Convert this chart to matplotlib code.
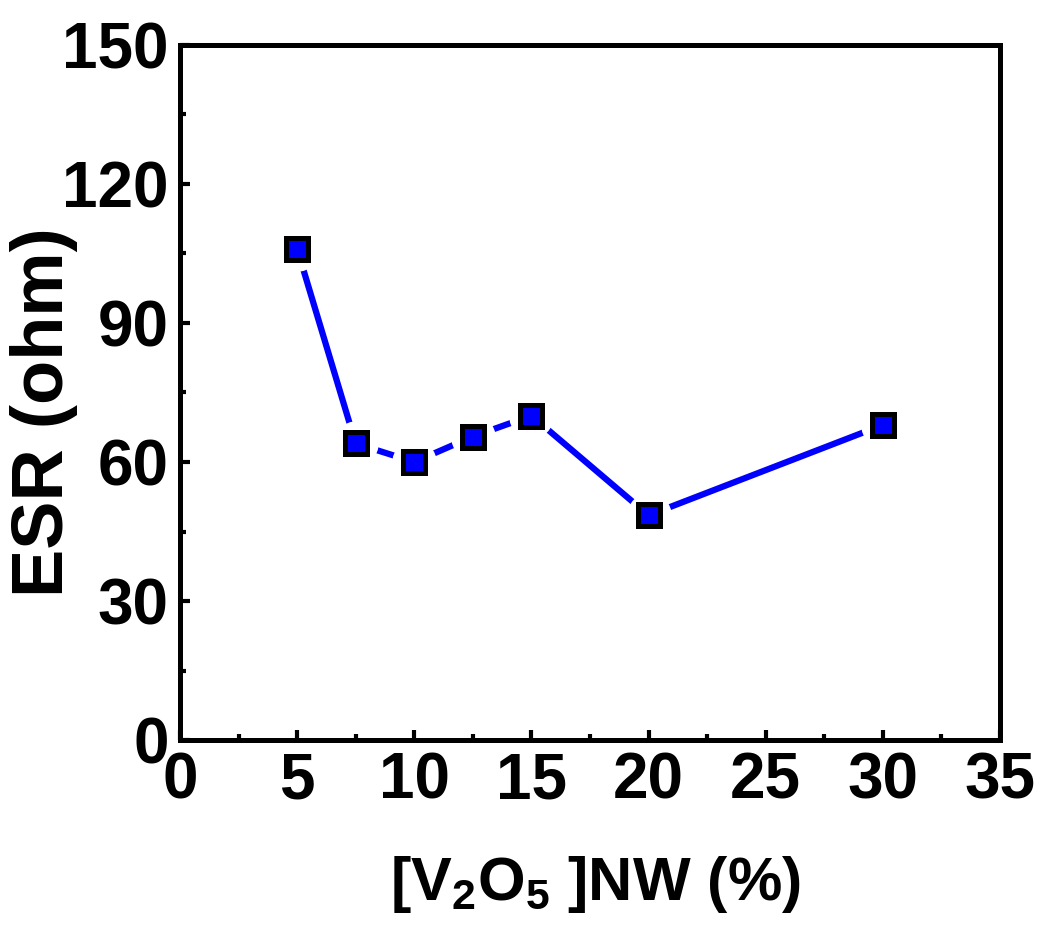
import matplotlib
matplotlib.use("Agg")
import matplotlib.pyplot as plt
from matplotlib.ticker import MultipleLocator

# Data
v2o5_pct = [5, 7.5, 10, 12.5, 15, 20, 30]
esr_ohm = [106, 64, 60, 65.5, 70, 48.5, 68]
x_ticks = [0, 5, 10, 15, 20, 25, 30, 35]
y_ticks = [0, 30, 60, 90, 120, 150]

plt.rcParams['font.family'] = ['Liberation Sans', 'DejaVu Sans']
plt.rcParams['font.weight'] = 'bold'
plt.rcParams['mathtext.fontset'] = 'custom'
plt.rcParams['mathtext.rm'] = 'Liberation Sans:bold'
plt.rcParams['mathtext.bf'] = 'Liberation Sans:bold'
plt.rcParams['mathtext.it'] = 'Liberation Sans:bold'

W, H = 1053, 927
fig = plt.figure(figsize=(W / 100, H / 100), dpi=100)
ax = fig.add_axes([0.1709, 0.2017, 0.7788, 0.7498])

# line
ax.plot(v2o5_pct, esr_ohm, color='#0000FF', lw=4.5, zorder=2, solid_capstyle='butt')
# white gap around markers
ax.plot(v2o5_pct, esr_ohm, ls='none', marker='o', ms=31, mfc='white', mec='white', zorder=3)
# markers
ax.plot(v2o5_pct, esr_ohm, ls='none', marker='s', ms=16.5, mfc='#0000FF', mec='black', mew=3.6, zorder=4)

ax.set_xlim(0, 35)
ax.set_ylim(0, 150)
ax.set_xticks(x_ticks)
ax.set_yticks(y_ticks)
ax.xaxis.set_minor_locator(MultipleLocator(2.5))
ax.yaxis.set_minor_locator(MultipleLocator(15))

for s in ax.spines.values():
    s.set_linewidth(3.6)

ax.tick_params(which='major', direction='in', length=7, width=3, labelsize=46, top=False, right=False)
ax.tick_params(which='minor', direction='in', length=4.5, width=3, top=False, right=False)
ax.tick_params(axis='x', pad=8)
ax.tick_params(axis='y', pad=8)
for lab in ax.get_xticklabels() + ax.get_yticklabels():
    lab.set_fontweight('bold')

fig.text(44 / W, 1 - 412 / H, 'ESR (ohm)', rotation=90, ha='center', va='center',
         fontsize=52, fontweight='bold')
fig.text(595 / W, 1 - 900 / H, r'[V$_{2}$O$_{5}$ ]NW (%)', ha='center', va='baseline',
         fontsize=44, fontweight='bold')

fig.savefig('out.png', dpi=100, facecolor='white')
